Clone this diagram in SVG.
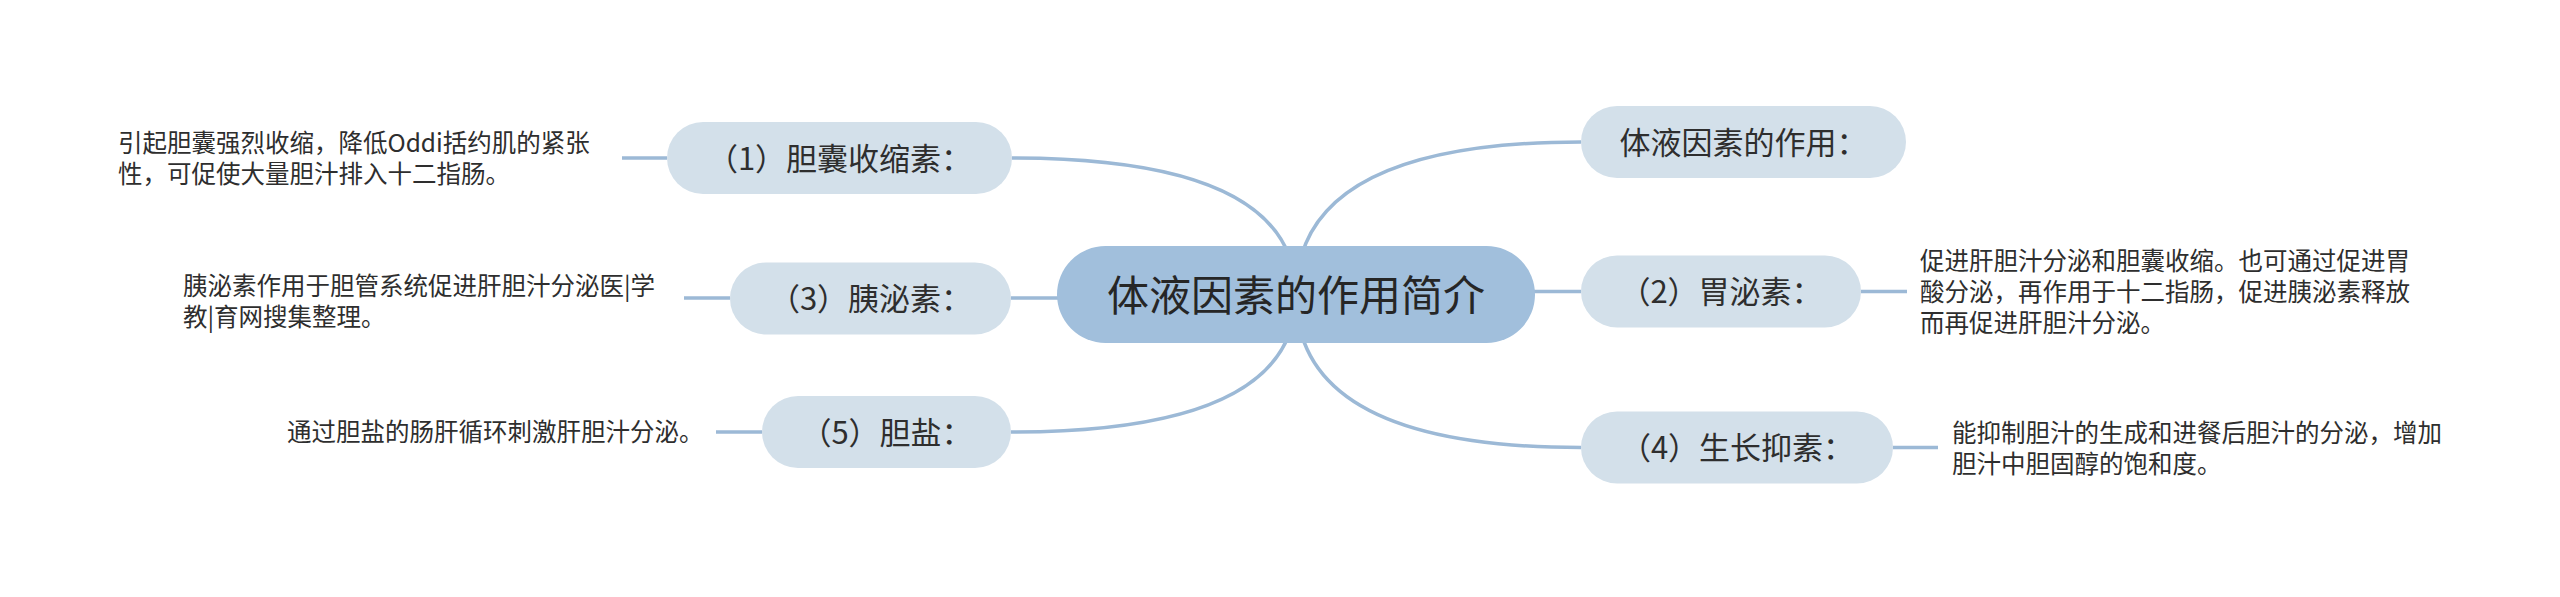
<svg xmlns="http://www.w3.org/2000/svg" width="2560" height="597" viewBox="0 0 2560 597">
<style>
.bg{fill:#ffffff}
.conn{fill:none;stroke:#9cb9d6;stroke-width:3.5;stroke-linecap:butt}
.root{fill:#a1bfdc}
.pill{fill:#d3e0ea}
.t{font-family:"Noto Sans CJK SC","Noto Sans",sans-serif;fill:#2e2e2e}
.rt{font-size:42px;text-anchor:middle;fill:#262626}
.pt{font-size:31px;text-anchor:middle}
.lt{font-size:24.5px}
</style>
<rect class="bg" x="0" y="0" width="2560" height="597"/>
<g id="connectors">
<path class="conn" d="M1296 295 Q1296 158 1012 158"/>
<path class="conn" d="M1296 295 Q1296 298 1011 298"/>
<path class="conn" d="M1296 295 Q1296 432 1011 432"/>
<path class="conn" d="M1296 295 Q1296 142 1581 142"/>
<path class="conn" d="M1296 295 Q1296 291.5 1581 291.5"/>
<path class="conn" d="M1296 295 Q1296 447.5 1581 447.5"/>
<path class="conn" d="M667 158 L622 158"/>
<path class="conn" d="M730 298 L684 298"/>
<path class="conn" d="M762 432 L716 432"/>
<path class="conn" d="M1861 291.5 L1907 291.5"/>
<path class="conn" d="M1893 447.5 L1938 447.5"/>
</g>
<g id="root">
<rect class="root" x="1057" y="246" width="478" height="97" rx="48.5"/>
<text class="t rt" x="1296" y="310.5">体液因素的作用简介</text>
</g>
<g id="n1">
<rect class="pill" x="667" y="122" width="345" height="72" rx="36"/>
<text class="t pt" x="839.5" y="169.5">（1）胆囊收缩素：</text>
</g>
<g id="n1-detail">
<text class="t lt" x="118" y="151.5">引起胆囊强烈收缩，降低Oddi括约肌的紧张</text>
<text class="t lt" x="118" y="182.5">性，可促使大量胆汁排入十二指肠。</text>
</g>
<g id="n3">
<rect class="pill" x="730" y="262.5" width="281" height="72" rx="36"/>
<text class="t pt" x="870.5" y="310">（3）胰泌素：</text>
</g>
<g id="n3-detail">
<text class="t lt" x="183" y="295">胰泌素作用于胆管系统促进肝胆汁分泌医|学</text>
<text class="t lt" x="183" y="326">教|育网搜集整理。</text>
</g>
<g id="n5">
<rect class="pill" x="762" y="396" width="249" height="72" rx="36"/>
<text class="t pt" x="886.5" y="443.5">（5）胆盐：</text>
</g>
<g id="n5-detail">
<text class="t lt" x="287" y="441">通过胆盐的肠肝循环刺激肝胆汁分泌。</text>
</g>
<g id="n0">
<rect class="pill" x="1581" y="106" width="325" height="72" rx="36"/>
<text class="t pt" x="1743.5" y="153.5">体液因素的作用：</text>
</g>
<g id="n2">
<rect class="pill" x="1581" y="255.5" width="280" height="72" rx="36"/>
<text class="t pt" x="1721" y="303">（2）胃泌素：</text>
</g>
<g id="n2-detail">
<text class="t lt" x="1920" y="269.5">促进肝胆汁分泌和胆囊收缩。也可通过促进胃</text>
<text class="t lt" x="1920" y="300.5">酸分泌，再作用于十二指肠，促进胰泌素释放</text>
<text class="t lt" x="1920" y="331.5">而再促进肝胆汁分泌。</text>
</g>
<g id="n4">
<rect class="pill" x="1581" y="411.5" width="312" height="72" rx="36"/>
<text class="t pt" x="1737" y="459">（4）生长抑素：</text>
</g>
<g id="n4-detail">
<text class="t lt" x="1952" y="442">能抑制胆汁的生成和进餐后胆汁的分泌，增加</text>
<text class="t lt" x="1952" y="473">胆汁中胆固醇的饱和度。</text>
</g>
</svg>
